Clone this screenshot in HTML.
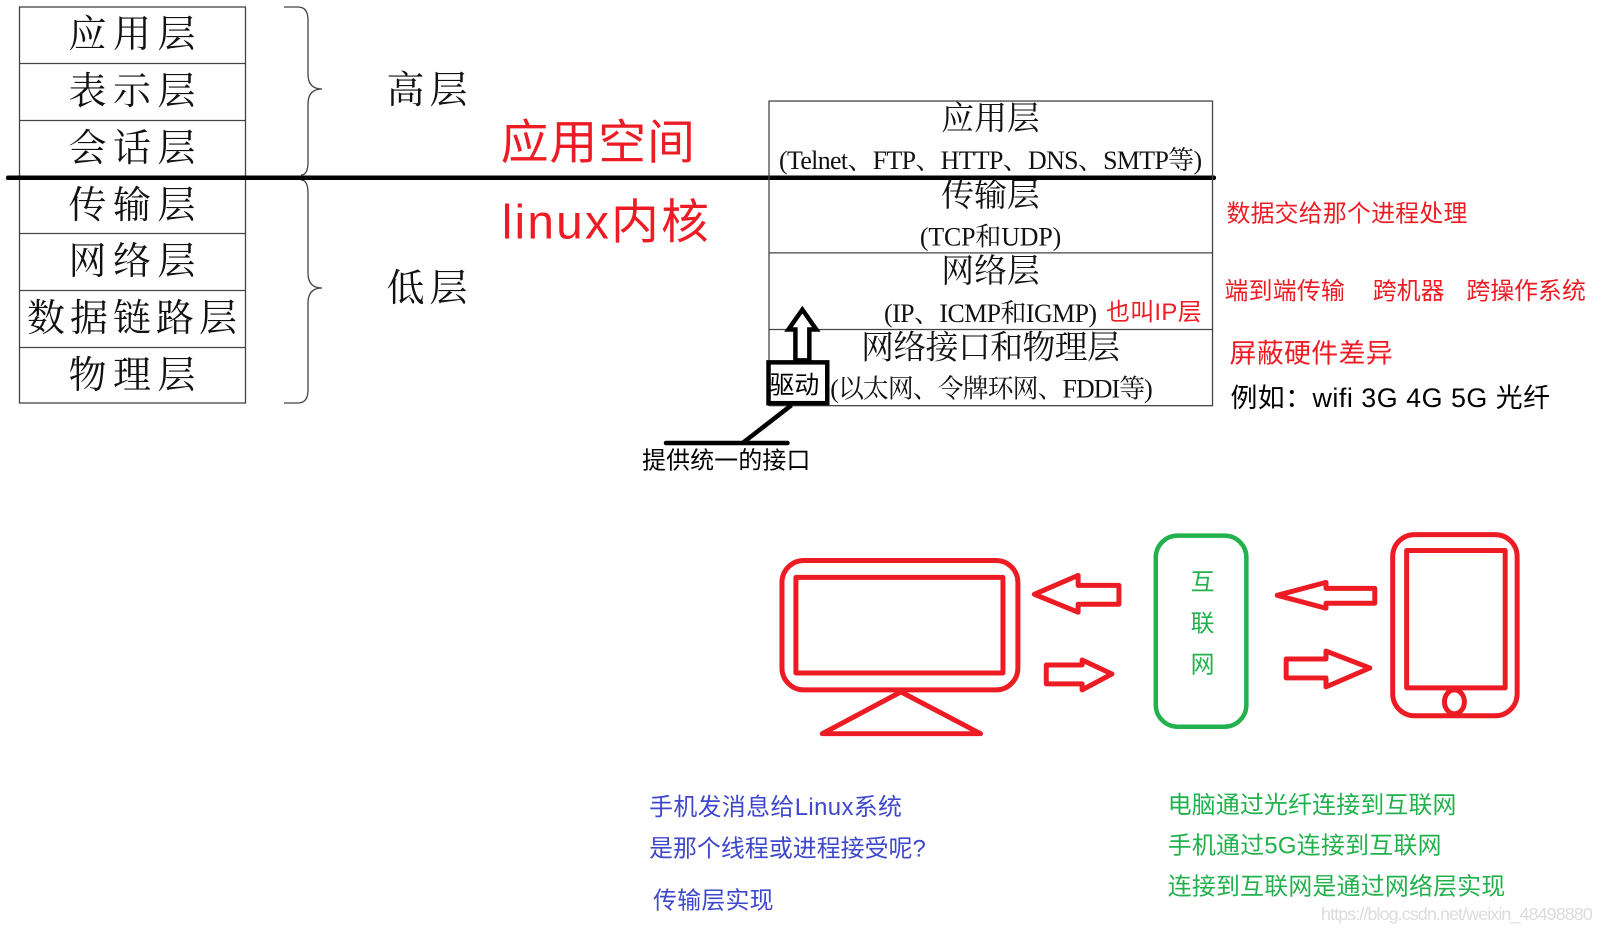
<!DOCTYPE html>
<html><head><meta charset="utf-8"><style>
html,body{margin:0;padding:0;background:#fff}
svg{display:block}
.s{font-family:"Liberation Serif","Noto Serif CJK SC",serif;fill:#111}
.y{font-family:"Liberation Sans","Noto Sans CJK SC",sans-serif}
.r{fill:#ed1c24}.b{fill:#3f48cc}.g{fill:#22b14c}.k{fill:#000}
text{dominant-baseline:central}
</style></head><body>
<svg width="1602" height="932" viewBox="0 0 1602 932" xmlns="http://www.w3.org/2000/svg">
<rect width="1602" height="932" fill="#fff"/>
<!-- left table -->
<g fill="none" stroke="#444" stroke-width="1.3">
<rect x="19.5" y="7" width="226" height="396"/>
<path d="M19.5 63.5H245.5M19.5 120.5H245.5M19.5 233.5H245.5M19.5 290.5H245.5M19.5 347.5H245.5"/>
<path d="M284 7H298Q308 7 308 20V74Q308 89 322 89Q308 89 308 104V162Q308 175 301 175"/>
<path d="M301 180Q308 180 308 193V273Q308 288 322 288Q308 288 308 303V390Q308 403 298 403H284"/>
</g>
<g class="s" font-size="38" text-anchor="middle">
<text x="132" y="35" textLength="127">应用层</text>
<text x="132" y="92" textLength="127">表示层</text>
<text x="132" y="149" textLength="127">会话层</text>
<text x="132" y="206" textLength="127">传输层</text>
<text x="132" y="262" textLength="127">网络层</text>
<text x="132" y="319" textLength="210">数据链路层</text>
<text x="132" y="376" textLength="127">物理层</text>
<text x="427" y="91" textLength="81">高层</text>
<text x="427" y="289" textLength="81">低层</text>
</g>
<rect x="6" y="175.5" width="1210" height="4.5" rx="2" fill="#000"/>
<g transform="scale(0.9955)">
<!-- right table -->
<g fill="none" stroke="#444" stroke-width="1.3">
<rect x="772.5" y="101.5" width="445.5" height="306"/>
<path d="M772.5 254H1218M772.5 331H1218"/>
</g>
<g class="s" font-size="33" text-anchor="middle">
<text x="995" y="120">应用层</text>
<text x="995" y="197">传输层</text>
<text x="995" y="273">网络层</text>
<text x="995" y="350" textLength="260">网络接口和物理层</text>
</g>
<g class="s" font-size="26" text-anchor="middle">
<text x="995" y="161" textLength="425">(Telnet、FTP、HTTP、DNS、SMTP等)</text>
<text x="995" y="238" textLength="142">(TCP和UDP)</text>
<text x="995" y="315" textLength="214">(IP、ICMP和IGMP)</text>
<text x="996" y="391" textLength="324">(以太网、令牌环网、FDDI等)</text>
</g>
<!-- big red -->
<g class="y r" font-size="48">
<text x="503" y="144" textLength="195">应用空间</text>
<text x="504" y="224" textLength="208">linux内核</text>
</g>
<text class="y r" x="1111" y="314" font-size="24" textLength="96">也叫IP层</text>
<!-- driver -->
<rect x="772" y="364" width="59" height="41" fill="#fff" stroke="#000" stroke-width="4.5"/>
<text class="y k" x="773" y="387" font-size="25" textLength="50">驱动</text>
<path d="M799 362V331H792L806 311L820 331H813V362Z" fill="#fff" stroke="#000" stroke-width="4.5" stroke-linejoin="miter"/>
<path d="M795 407L746 445" stroke="#000" stroke-width="4.5" fill="none"/>
<path d="M669 445H791" stroke="#000" stroke-width="4.5" stroke-linecap="round" fill="none"/>
<text class="y k" x="645" y="463" font-size="24" textLength="169">提供统一的接口</text>
<!-- right notes -->
<g class="y r" font-size="24">
<text x="1232" y="215" textLength="242">数据交给那个进程处理</text>
<text x="1230" y="293" textLength="121">端到端传输</text>
<text x="1379" y="293" textLength="72">跨机器</text>
<text x="1473" y="293" textLength="120">跨操作系统</text>
<text x="1235" y="355" font-size="27" textLength="164">屏蔽硬件差异</text>
</g>
<text class="y k" x="1236" y="400" font-size="27" textLength="321">例如：wifi 3G 4G 5G 光纤</text>
<!-- icons -->
<g fill="none" stroke="#ed1c24" stroke-width="5" stroke-linejoin="round">
<rect x="785.5" y="563" width="237" height="130" rx="22"/>
<rect x="799.5" y="580" width="208" height="96"/>
<path d="M905 695L826 737H985Z"/>
<path d="M1039 597L1083 578V588H1124V607H1083V615Z"/>
<path d="M1051 668H1087V663L1117 677L1087 693V687H1051Z"/>
<rect x="1399" y="537" width="125" height="182" rx="22"/>
<rect x="1413" y="553" width="99" height="138"/>
<ellipse cx="1461" cy="705" rx="10" ry="12"/>
<path d="M1283 598L1332 585V591H1381V606H1332V611Z"/>
<path d="M1292 662H1332V654L1376 671L1332 690V681H1292Z"/>
</g>
<rect x="1161" y="538" width="91" height="192" rx="22" fill="none" stroke="#22b14c" stroke-width="4.5"/>
<g class="y g" font-size="24" text-anchor="middle">
<text x="1208" y="585">互</text>
<text x="1208" y="627">联</text>
<text x="1208" y="668">网</text>
</g>
<!-- bottom -->
<g class="y b" font-size="24">
<text x="652" y="811" textLength="254">手机发消息给Linux系统</text>
<text x="652" y="853" textLength="278">是那个线程或进程接受呢?</text>
<text x="656" y="905" textLength="121">传输层实现</text>
</g>
<g class="y g" font-size="24">
<text x="1173" y="809" textLength="290">电脑通过光纤连接到互联网</text>
<text x="1173" y="850" textLength="275">手机通过5G连接到互联网</text>
<text x="1173" y="891" textLength="339">连接到互联网是通过网络层实现</text>
</g>
<text class="y" x="1327" y="918" font-size="18" fill="#dcdcdc" textLength="273">https://blog.csdn.net/weixin_48498880</text>
</g>
</svg>
</body></html>
